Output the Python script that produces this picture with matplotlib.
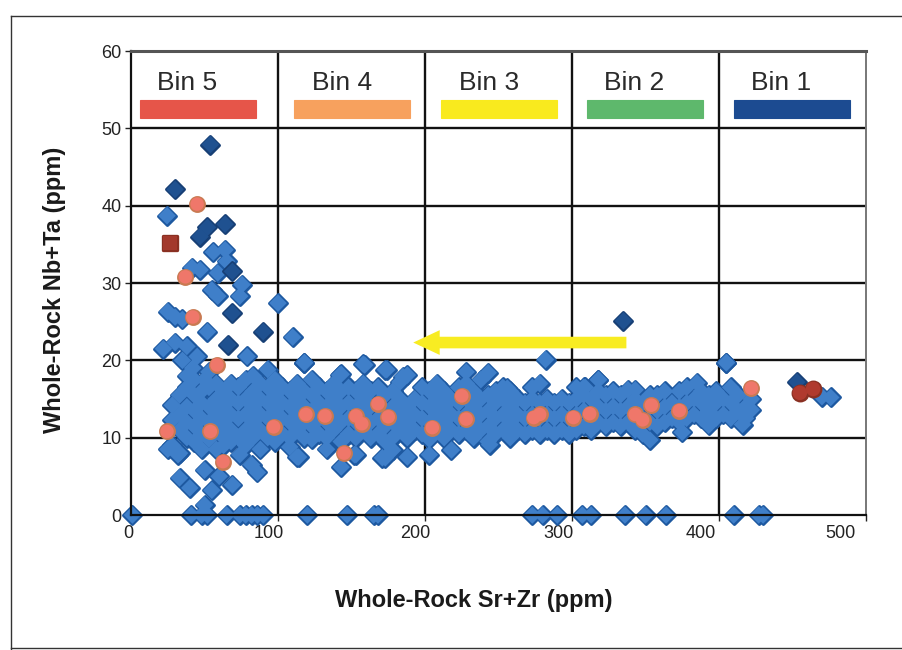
import matplotlib
matplotlib.use("Agg")
import matplotlib.pyplot as plt
from matplotlib.patches import Rectangle
from matplotlib.lines import Line2D
from matplotlib.transforms import ScaledTranslation

plt.rcParams['font.family'] = ['Liberation Sans', 'DejaVu Sans']

# ---- data (Sr+Zr ppm, Nb+Ta ppm) ----
# dense band of light-blue points, left part
band_left = [
    (28, 12.3), (28, 14.2), (28, 9.0), (33, 11.0), (33, 13.0), (33, 15.5), (33, 8.0),
    (38, 10.0), (38, 12.0), (38, 14.0), (38, 16.5), (38, 18.0),
    (43, 9.5), (43, 11.5), (43, 13.5), (43, 15.5), (43, 17.5),
    (48, 10.5), (48, 12.5), (48, 14.5), (48, 16.0), (48, 8.5),
    (53, 9.8), (53, 12.0), (53, 14.0), (53, 16.5), (53, 18.5),
    (58, 11.0), (58, 13.0), (58, 15.0), (58, 17.0), (58, 8.5),
    (63, 10.0), (63, 12.0), (63, 14.0), (63, 16.0), (63, 9.0),
    (68, 11.0), (68, 13.0), (68, 15.0), (68, 17.0), (68, 9.5),
    (73, 10.0), (73, 12.5), (73, 14.5), (73, 16.5),
    (78, 11.0), (78, 13.0), (78, 15.0), (78, 17.5), (78, 9.0),
    (83, 10.0), (83, 12.0), (83, 14.0), (83, 16.0), (83, 18.0),
    (88, 11.0), (88, 13.0), (88, 15.0), (88, 17.0), (88, 8.5),
    (93, 10.0), (93, 12.5), (93, 14.5), (93, 16.5), (93, 18.8),
    (98, 9.5), (98, 11.5), (98, 13.5), (98, 15.5), (98, 17.5),
]
# dense band, middle part
band_mid = [
    (103, 10.5), (103, 12.5), (103, 14.5), (103, 16.5),
    (108, 10.0), (108, 12.0), (108, 14.0), (108, 16.0), (108, 8.8),
    (113, 11.0), (113, 13.0), (113, 15.0), (113, 17.0), (113, 7.5),
    (118, 10.0), (118, 12.0), (118, 14.0), (118, 16.0), (118, 19.7),
    (123, 9.8), (123, 11.5), (123, 13.5), (123, 15.5), (123, 17.5),
    (128, 10.5), (128, 12.5), (128, 14.5), (128, 16.5),
    (133, 10.0), (133, 12.0), (133, 14.0), (133, 16.0), (133, 8.5),
    (138, 11.0), (138, 13.0), (138, 15.0), (138, 17.0),
    (143, 9.5), (143, 12.0), (143, 14.0), (143, 16.0), (143, 18.2), (143, 6.2),
    (148, 10.5), (148, 12.5), (148, 14.5), (148, 16.5),
    (153, 10.0), (153, 12.0), (153, 14.0), (153, 16.0), (153, 7.8),
    (158, 11.0), (158, 13.0), (158, 15.0), (158, 17.0), (158, 19.5),
    (163, 10.0), (163, 12.0), (163, 14.0), (163, 16.0),
    (168, 10.5), (168, 12.5), (168, 14.5), (168, 16.5),
    (173, 9.5), (173, 11.5), (173, 13.5), (173, 15.5), (173, 18.8), (173, 7.4),
    (178, 10.0), (178, 12.0), (178, 14.0), (178, 16.0), (178, 8.4),
    (183, 11.0), (183, 13.0), (183, 15.0), (183, 17.2),
    (188, 10.0), (188, 12.0), (188, 14.0), (188, 18.1), (188, 7.5),
    (193, 11.0), (193, 13.0), (193, 15.0),
    (198, 10.5), (198, 12.5), (198, 14.5), (198, 16.5),
    (203, 9.8), (203, 12.0), (203, 14.0), (203, 16.0), (203, 7.8),
    (208, 11.0), (208, 13.0), (208, 15.0), (208, 17.0),
    (213, 10.0), (213, 12.0), (213, 14.0), (213, 16.0),
    (218, 11.0), (218, 13.0), (218, 15.0), (218, 8.4),
    (223, 10.5), (223, 12.5), (223, 14.5), (223, 16.5),
    (228, 11.0), (228, 13.0), (228, 15.0), (228, 17.0), (228, 18.5),
    (233, 10.0), (233, 12.0), (233, 14.0), (233, 16.0),
    (238, 11.0), (238, 13.0), (238, 15.0), (238, 17.5),
    (243, 9.5), (243, 11.5), (243, 13.5), (243, 15.5), (243, 18.4),
    (248, 10.5), (248, 12.5), (248, 14.5), (248, 16.0),
    (253, 11.0), (253, 13.0), (253, 15.0), (253, 16.5),
    (258, 10.0), (258, 12.0), (258, 14.0), (258, 16.0),
    (263, 11.0), (263, 13.0), (263, 15.0),
    (268, 10.5), (268, 12.5), (268, 14.5),
]
# dense band, right part
band_right = [
    (273, 11.0), (273, 13.0), (273, 15.0), (273, 16.5),
    (278, 10.5), (278, 12.5), (278, 14.5), (278, 17.0),
    (283, 11.0), (283, 13.0), (283, 15.0),
    (288, 10.5), (288, 12.5), (288, 14.5),
    (293, 11.0), (293, 13.0), (293, 15.0),
    (298, 10.5), (298, 12.5), (298, 14.5),
    (303, 11.0), (303, 13.0), (303, 15.0), (303, 16.5),
    (308, 11.5), (308, 13.5), (308, 15.5), (308, 16.5),
    (313, 11.0), (313, 13.0), (313, 15.0), (318, 17.5),
    (318, 12.0), (318, 14.0), (318, 16.0),
    (323, 11.5), (323, 13.5), (323, 15.5),
    (328, 12.0), (328, 14.0), (328, 16.0),
    (333, 11.5), (333, 13.5), (333, 15.5),
    (338, 12.0), (338, 14.0), (338, 16.2),
    (343, 11.0), (343, 13.0), (343, 15.0),
    (348, 10.5), (348, 12.5), (348, 14.5),
    (353, 9.7), (353, 12.0), (353, 14.0), (353, 15.5),
    (358, 11.5), (358, 13.5), (358, 15.5),
    (363, 12.0), (363, 14.0), (363, 16.0),
    (368, 12.5), (368, 14.5),
    (373, 12.0), (373, 14.0), (373, 16.0), (375, 10.7),
    (378, 12.5), (378, 14.5), (378, 16.5),
    (383, 13.0), (383, 15.0), (385, 17.1),
    (388, 12.5), (388, 14.5), (388, 16.0),
    (393, 11.6), (393, 13.5), (393, 15.5),
    (398, 12.5), (398, 14.5), (398, 16.0),
    (403, 13.0), (403, 15.0), (405, 19.7),
    (408, 12.5), (408, 14.5), (408, 16.5),
    (413, 13.5), (413, 15.5), (416, 11.7),
    (418, 12.5), (418, 14.0), (422, 15.0), (422, 13.6),
]
# light-blue points away from the band
blue_outliers = [
    (24.5, 38.7), (56, 34.0), (64, 34.3), (65, 32.8), (41.5, 32.0), (47, 31.7),
    (59, 31.3), (55, 29.1), (59, 28.3), (75.5, 29.8), (74, 28.3), (100, 27.4),
    (25, 26.3), (30, 25.6), (35, 25.3), (52, 23.7), (110, 23.0), (79, 20.5),
    (22, 21.5), (30, 22.3), (38, 21.8), (45, 20.5), (35, 20.0), (42, 19.0),
    (50, 17.5), (118, 19.7), (159, 19.4), (174, 18.8), (142, 18.1), (185, 17.9),
    (282, 20.1), (256, 16.4), (309, 16.5), (318, 17.5), (343, 16.2), (405, 19.7),
    (32, 7.8), (33, 4.8), (40, 3.5), (50, 5.8), (55, 3.2), (69, 3.9),
    (74, 7.8), (82, 6.5), (25, 8.5), (60, 5.0), (86, 5.5), (114, 7.5),
    (152, 7.8), (171, 7.4), (244, 9.1), (50, 1.3), (470, 15.3), (476, 15.2),
]
# points sitting on Nb+Ta = 0
zero_x = [1, 41, 48, 52, 65, 74, 78, 82, 86, 90, 120, 147, 165, 168,
          273, 280, 290, 307, 313, 336, 350, 364, 410, 427, 430]
# dark-blue points
dark_blue = [
    (54, 47.9), (30, 42.1), (47, 36.0), (52, 37.2), (64, 37.6), (69, 26.1),
    (90, 23.7), (66, 22.0), (69, 31.5), (335, 25.1), (453, 17.2),
]
# salmon points
salmon = [
    (45, 40.2), (37, 30.8), (42, 25.6), (58.5, 19.4), (24.5, 10.8), (54, 10.8),
    (62.6, 6.9), (97, 11.4), (119, 13.0), (132, 12.8), (153, 12.8), (157, 11.8),
    (168, 14.4), (175, 12.7), (145, 8.0), (205, 11.3), (225, 15.4), (228, 12.4),
    (274, 12.6), (278, 13.0), (301, 12.6), (312, 13.1), (343, 13.0), (348, 12.3),
    (354, 14.2), (373, 13.5), (422, 16.4),
]
# dark red points
dark_red_sq = [(26.5, 35.2)]
dark_red = [(455, 15.8), (464, 16.3)]

bins = ["Bin 5", "Bin 4", "Bin 3", "Bin 2", "Bin 1"]
bin_colors = ["#e65549", "#f7a15e", "#f9ea1e", "#5eb86c", "#1c4b91"]
x_ticks = [0, 100, 200, 300, 400, 500]
y_ticks = [0, 10, 20, 30, 40, 50, 60]

fig = plt.figure(figsize=(9.02, 6.5), dpi=100)
ax = fig.add_axes([131 / 902, 1 - 515 / 650, 735 / 902, 464 / 650])
ax.set_xlim(0, 500)
ax.set_ylim(0, 60)

# grid
for yv in y_ticks[1:-1]:
    ax.axhline(yv, color="#111111", lw=1.7, zorder=1)
for xv in x_ticks[1:-1]:
    ax.axvline(xv, color="#111111", lw=1.7, zorder=1)


def unzip(pairs):
    return [p[0] for p in pairs], [p[1] for p in pairs]


def blob(xs, ys, marker, s, face, edge, z, clip=True):
    # outline pass, then a fill pass on top, so touching markers merge
    ax.scatter(xs, ys, marker=marker, s=s, c=edge, edgecolors=edge,
               linewidths=2.4, zorder=z, clip_on=clip)
    ax.scatter(xs, ys, marker=marker, s=s, c=face, edgecolors="none",
               zorder=z + 0.1, clip_on=clip)


blue_pts = band_left + band_mid + band_right + blue_outliers
bx, by = unzip(blue_pts)
blob(bx + zero_x, by + [0] * len(zero_x), "D", 80, "#3f7fc9", "#1d58a0", 2,
     clip=False)
dx, dy = unzip(dark_blue)
blob(dx, dy, "D", 80, "#1f5190", "#173f75", 3)
sx, sy = unzip(salmon)
blob(sx, sy, "o", 95, "#ef776a", "#c97a52", 4)
rx, ry = unzip(dark_red_sq)
blob(rx, ry, "s", 105, "#a3392c", "#8a3022", 4)
rx, ry = unzip(dark_red)
blob(rx, ry, "o", 110, "#b03a2e", "#8a3022", 4)

# yellow arrow
ax.arrow(337, 22.3, -145, 0, width=1.5, head_width=3.2, head_length=18,
         length_includes_head=True, color="#f8ec22", zorder=5, lw=0)

# legend strip at the top
starts = [6, 111, 211, 310, 410]
for name, col, x0 in zip(bins, bin_colors, starts):
    ax.text(x0 + 12, 54.9, name, fontsize=19, color="#2a2a2a", va="baseline")
    ax.add_patch(Rectangle((x0, 51.3), 79, 2.4, facecolor=col,
                           edgecolor=col, lw=0.8, zorder=3))

ax.set_xticks(x_ticks)
ax.set_yticks(y_ticks)
ax.tick_params(direction="out", length=4, width=1, labelsize=13,
               colors="#222222", pad=3)
# the scanned labels drift left of their gridlines
x_label_shift = [-3, -9, -10, -14, -18, -26]
for lab, dxp in zip(ax.get_xticklabels(), x_label_shift):
    lab.set_transform(lab.get_transform() +
                      ScaledTranslation(dxp / 100, 0, fig.dpi_scale_trans))
for side in ["left", "bottom"]:
    ax.spines[side].set_color("#111111")
    ax.spines[side].set_linewidth(1.6)
ax.spines["top"].set_color("#555555")
ax.spines["top"].set_linewidth(2.2)
ax.spines["right"].set_color("#777777")
ax.spines["right"].set_linewidth(1.4)

fig.text(474 / 902, 1 - 600 / 650, "Whole-Rock Sr+Zr (ppm)", fontsize=17,
         fontweight="bold", ha="center", va="center", color="#1a1a1a")
fig.text(55 / 902, 1 - 290 / 650, "Whole-Rock Nb+Ta (ppm)", fontsize=17,
         fontweight="bold", ha="center", va="center", rotation=90,
         color="#1a1a1a")

# outer frame of the scanned page
frame_kw = dict(color="#333333", lw=1.0, transform=fig.transFigure)
fig.add_artist(Line2D([11 / 902, 11 / 902], [0, 1 - 16 / 650], **frame_kw))
fig.add_artist(Line2D([11 / 902, 1], [1 - 16 / 650, 1 - 16 / 650], **frame_kw))
fig.add_artist(Line2D([11 / 902, 1], [2 / 650, 2 / 650], **frame_kw))

fig.savefig("out.png", dpi=100)
